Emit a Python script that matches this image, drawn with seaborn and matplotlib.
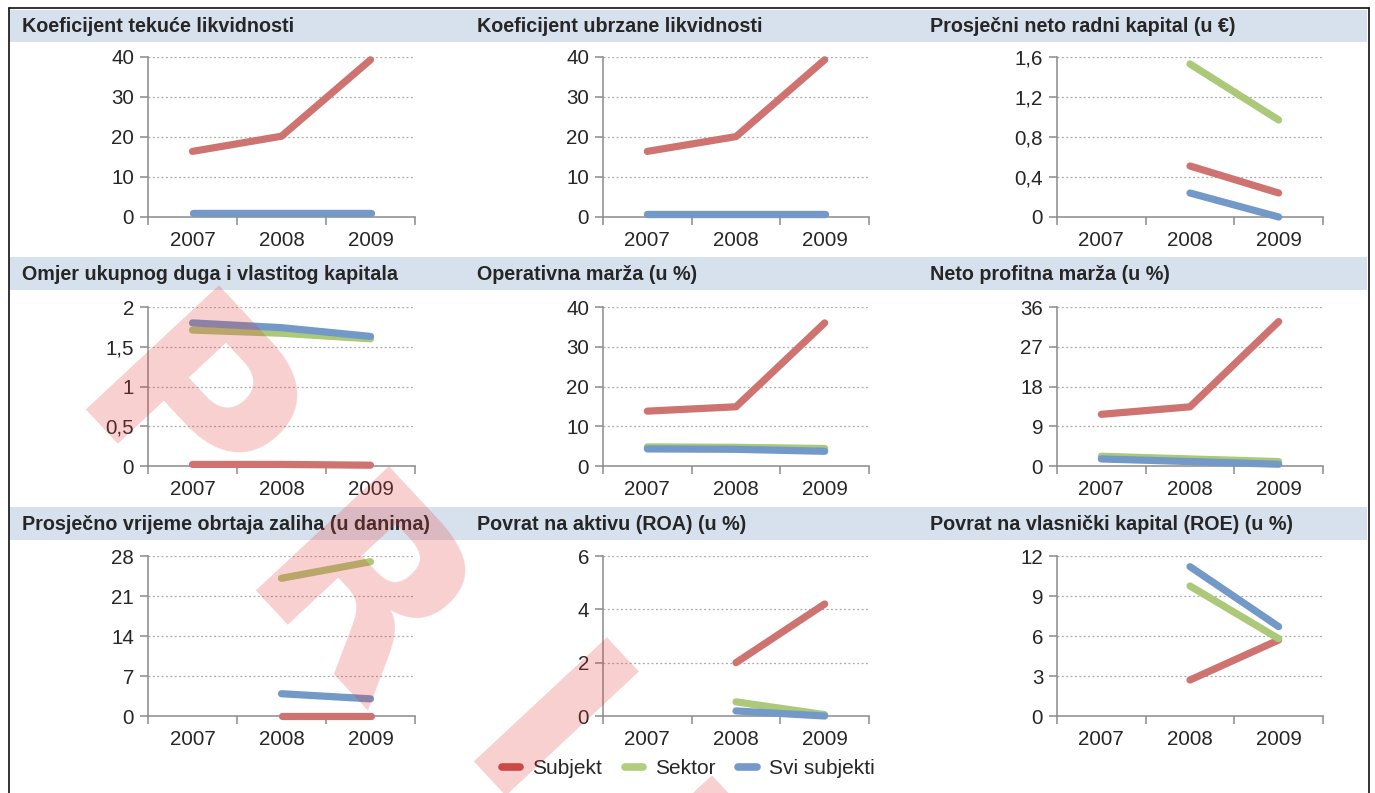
import numpy as np
import pandas as pd
import matplotlib
matplotlib.use("Agg")
import matplotlib.pyplot as plt
import seaborn as sns
from matplotlib.patches import Rectangle
from matplotlib.lines import Line2D
from matplotlib.ticker import FixedLocator, FuncFormatter

nan = np.nan

# ---- data -------------------------------------------------------------
years = ["2007", "2008", "2009"]
series = ["Subjekt", "Sektor", "Svi subjekti"]

titles = [
    "Koeficijent tekuće likvidnosti",
    "Koeficijent ubrzane likvidnosti",
    "Prosječni neto radni kapital (u €)",
    "Omjer ukupnog duga i vlastitog kapitala",
    "Operativna marža (u %)",
    "Neto profitna marža (u %)",
    "Prosječno vrijeme obrtaja zaliha (u danima)",
    "Povrat na aktivu (ROA) (u %)",
    "Povrat na vlasnički kapital (ROE) (u %)",
]

tekuca_subjekt = [16.4, 20.2, 39.3]
tekuca_sektor = [1.1, 1.1, 1.1]
tekuca_svi = [1.1, 1.1, 1.1]

ubrzana_subjekt = [16.4, 20.1, 39.3]
ubrzana_sektor = [0.8, 0.8, 0.8]
ubrzana_svi = [0.8, 0.8, 0.8]

nrk_subjekt = [nan, 0.51, 0.24]
nrk_sektor = [nan, 1.53, 0.97]
nrk_svi = [nan, 0.24, 0.0]

dug_subjekt = [0.02, 0.02, 0.01]
dug_sektor = [1.71, 1.67, 1.60]
dug_svi = [1.80, 1.74, 1.63]

op_subjekt = [13.8, 14.9, 36.0]
op_sektor = [4.8, 4.7, 4.4]
op_svi = [4.3, 4.2, 3.7]

neto_subjekt = [11.7, 13.4, 32.7]
neto_sektor = [2.2, 1.6, 1.0]
neto_svi = [1.6, 1.0, 0.4]

zalihe_subjekt = [nan, 0.0, 0.0]
zalihe_sektor = [nan, 24.1, 27.0]
zalihe_svi = [nan, 3.9, 3.0]

roa_subjekt = [nan, 2.0, 4.2]
roa_sektor = [nan, 0.53, 0.05]
roa_svi = [nan, 0.19, 0.0]

roe_subjekt = [nan, 2.7, 5.7]
roe_sektor = [nan, 9.75, 5.8]
roe_svi = [nan, 11.2, 6.7]

yticks = [
    [0, 10, 20, 30, 40],
    [0, 10, 20, 30, 40],
    [0, 0.4, 0.8, 1.2, 1.6],
    [0, 0.5, 1, 1.5, 2],
    [0, 10, 20, 30, 40],
    [0, 9, 18, 27, 36],
    [0, 7, 14, 21, 28],
    [0, 2, 4, 6],
    [0, 3, 6, 9, 12],
]

panel_values = [
    (tekuca_subjekt, tekuca_sektor, tekuca_svi),
    (ubrzana_subjekt, ubrzana_sektor, ubrzana_svi),
    (nrk_subjekt, nrk_sektor, nrk_svi),
    (dug_subjekt, dug_sektor, dug_svi),
    (op_subjekt, op_sektor, op_svi),
    (neto_subjekt, neto_sektor, neto_svi),
    (zalihe_subjekt, zalihe_sektor, zalihe_svi),
    (roa_subjekt, roa_sektor, roa_svi),
    (roe_subjekt, roe_sektor, roe_svi),
]

line_colors = {"Subjekt": "#cf7370", "Sektor": "#abc979", "Svi subjekti": "#7399c8"}
legend_colors = {"Subjekt": "#c4504d", "Sektor": "#b0cd80", "Svi subjekti": "#7599cb"}

# ---- style ------------------------------------------------------------
sns.set_theme(style="white")
plt.rcParams["font.family"] = ["Liberation Sans", "DejaVu Sans"]

W, H = 1375, 793
fig = plt.figure(figsize=(W / 100, H / 100), dpi=100)
fig.patch.set_facecolor("white")

def fx(px):
    return px / W

def fy(py):
    return 1 - py / H

axis_gray = "#8a8a8a"
text_dark = "#262626"

# title bands (pixel top, bottom) and text centres
bands = [(10, 42), (257, 290), (507, 540)]
title_y = [27, 275, 524]
col_title_x = [22, 477, 930]

for top, bot in bands:
    fig.patches.append(Rectangle((fx(9), fy(bot)), fx(1367) - fx(9), fy(top) - fy(bot),
                                 transform=fig.transFigure, facecolor="#d7e1ee",
                                 edgecolor="none", zorder=0))

# plot areas in pixels: left, right, top (max tick), bottom (zero)
col_lr = [(148, 415), (603, 869), (1057, 1323)]
row_tb = [(57, 217), (307, 466), (556, 716)]

def fmt_tick(v, pos=None):
    s = f"{v:g}"
    return s.replace(".", ",")

for i in range(9):
    r, c = divmod(i, 3)
    l, rr = col_lr[c]
    t, b = row_tb[r]
    ax = fig.add_axes([fx(l), fy(b), fx(rr) - fx(l), fy(t) - fy(b)])
    subj, sekt, svi = panel_values[i]
    df = pd.DataFrame({
        "pos": [0, 1, 2] * 3,
        "value": list(subj) + list(sekt) + list(svi),
        "serija": [s for s in series for _ in range(3)],
    }).dropna()
    sns.lineplot(data=df, x="pos", y="value", hue="serija", hue_order=series,
                 palette=line_colors, linewidth=5.2, solid_capstyle="round",
                 legend=False, ax=ax, clip_on=False, estimator=None, sort=False)

    yt = yticks[i]
    ax.set_ylim(yt[0], yt[-1])
    ax.set_xlim(-0.5, 2.5)
    ax.set_xlabel("")
    ax.set_ylabel("")
    ax.set_facecolor("none")

    for side in ("top", "right"):
        ax.spines[side].set_visible(False)
    for side in ("left", "bottom"):
        ax.spines[side].set_color(axis_gray)
        ax.spines[side].set_linewidth(1.1)
        ax.spines[side].set_zorder(0.5)

    ax.yaxis.set_major_locator(FixedLocator(yt))
    ax.yaxis.set_major_formatter(FuncFormatter(fmt_tick))
    ax.set_xticks([-0.5, 0.5, 1.5, 2.5])
    ax.set_xticklabels([])
    ax.set_xticks([0, 1, 2], minor=True)
    ax.set_xticklabels(years, minor=True)

    ax.tick_params(axis="y", which="major", direction="out", length=6, width=1.1,
                   color=axis_gray, labelsize=14.8, labelcolor=text_dark, pad=4, left=True)
    ax.tick_params(axis="x", which="major", direction="out", length=6, width=1.1,
                   color=axis_gray, bottom=True)
    ax.tick_params(axis="x", which="minor", length=0, labelsize=14.8,
                   labelcolor=text_dark, pad=10, bottom=True)

    ax.grid(False)
    for v in yt[1:]:
        ax.axhline(v, color="#a9a9a9", linewidth=0.9, linestyle=(0, (1.5, 2)), zorder=0.3)

    fig.text(fx(col_title_x[c]), fy(title_y[r]), titles[i], fontsize=14.2,
             fontweight="bold", color=text_dark, ha="left", va="center")

# legend
handles = [Line2D([0], [0], color=legend_colors[s], lw=5.5, solid_capstyle="round")
           for s in series]
fig.legend(handles, series, loc="center", bbox_to_anchor=(fx(688), fy(769)), ncol=3,
           frameon=False, fontsize=15, handlelength=0.9, handletextpad=0.55,
           columnspacing=1.1, labelcolor=text_dark)

# frame around the page
frame_kw = dict(transform=fig.transFigure, color="#111111", linewidth=1.2, zorder=5)
fig.lines.append(Line2D([fx(8.5), fx(8.5)], [fy(8), 0], **frame_kw))
fig.lines.append(Line2D([fx(8.5), fx(1369)], [fy(8), fy(8)], **frame_kw))
fig.lines.append(Line2D([fx(1369), fx(1369)], [fy(8), 0], **frame_kw))

# diagonal watermark letters
mark_letters = ["P", "R", "I", "M"]
mark_pos = [(124, 476), (298, 660), (482, 795), (640, 990)]
for ch, (px, py) in zip(mark_letters, mark_pos):
    fig.text(fx(px), fy(py), ch, fontsize=180, fontweight="bold",
             family="DejaVu Sans", color="#e53935", alpha=0.24, rotation=-47,
             rotation_mode="anchor", ha="center", va="baseline", zorder=50)

fig.savefig("out.png", dpi=100, facecolor="white")
